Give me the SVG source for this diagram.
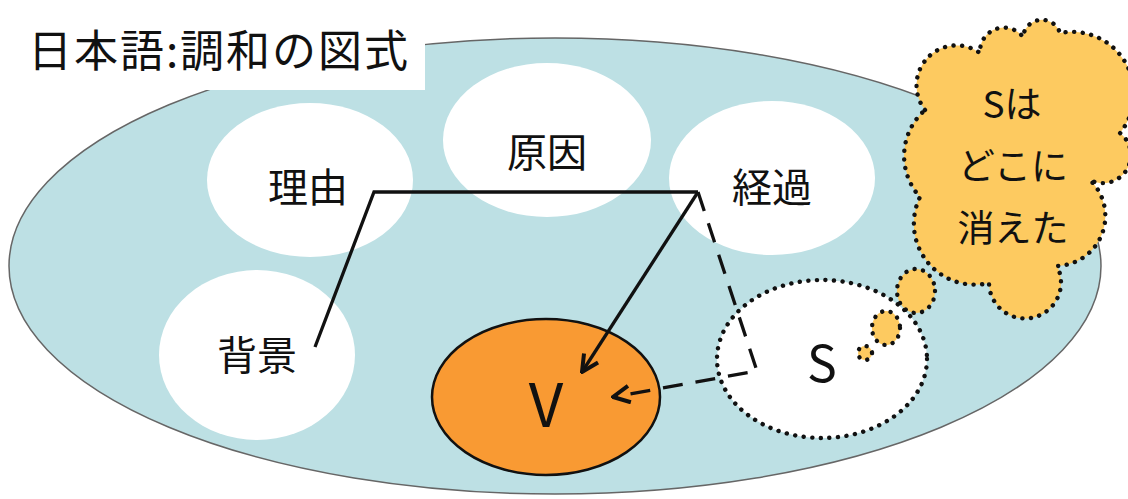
<svg xmlns="http://www.w3.org/2000/svg" width="1128" height="499" viewBox="0 0 1128 499">
<style>
text{font-family:"Noto Sans CJK JP","Noto Sans CJK SC",sans-serif;fill:#111;}
.lbl{font-size:40px;text-anchor:middle;}
.cl{font-size:37px;text-anchor:middle;}
.white{fill:#fff;stroke:none;}
.dot{stroke:#111;stroke-width:4.4;stroke-dasharray:0.1 8.5;stroke-linecap:round;}
.cloud{fill:#FDCA60;}
.ln{fill:none;stroke:#111;stroke-width:3.3;}
</style>
<defs>
<marker id="arr" viewBox="0 0 12 12" refX="11" refY="6" markerWidth="20" markerHeight="20" markerUnits="userSpaceOnUse" orient="auto">
<path d="M1,1 L11,6 L1,11" fill="none" stroke="#111" stroke-width="2.4"/>
</marker>
</defs>
<rect x="0" y="0" width="1128" height="499" fill="#fff"/>
<g id="field">
<ellipse cx="555" cy="266" rx="546" ry="228" fill="#BDE0E4" stroke="#666" stroke-width="1.5"/>
</g>
<g id="title">
<rect x="0" y="0" width="425" height="90" fill="#fff"/>
<text x="28" y="67" font-size="44" textLength="380" lengthAdjust="spacing">日本語:調和の図式</text>
</g>
<g id="riyu"><ellipse class="white" cx="310" cy="180" rx="103" ry="77"/><text class="lbl" x="308" y="202">理由</text></g>
<g id="genin"><ellipse class="white" cx="547" cy="140" rx="104" ry="77"/><text class="lbl" x="547" y="167">原因</text></g>
<g id="keika"><ellipse class="white" cx="772" cy="178" rx="103" ry="77"/><text class="lbl" x="772" y="202">経過</text></g>
<g id="haikei"><ellipse class="white" cx="257" cy="355" rx="98" ry="85"/><text class="lbl" x="257" y="370">背景</text></g>
<g id="v"><ellipse cx="546" cy="397" rx="114" ry="78" fill="#F99A33" stroke="#111" stroke-width="2.5"/><text x="546" y="427" font-size="60" text-anchor="middle">V</text></g>
<g id="s"><ellipse class="white dot" cx="822" cy="359" rx="105" ry="79"/><text x="822" y="382" font-size="50" text-anchor="middle">S</text></g>
<g id="connectors">
<polyline class="ln" points="315,347 374,192 698,192"/>
<line class="ln" x1="698" y1="192" x2="582" y2="372" stroke-width="2.8" marker-end="url(#arr)"/>
<polyline class="ln" points="698,192 757,371 613,397" stroke-dasharray="20 13" marker-end="url(#arr)"/>
</g>
<g id="thought">
<path class="cloud dot" d="M925,110 A40,40 0 0 1 980,53 A24,24 0 0 1 1023,37 A19,19 0 0 1 1060,33 A62,62 0 0 1 1120,133 A28,28 0 0 1 1090,180 A50,50 0 0 1 1057,266 A36,36 0 1 1 989,283 A61,61 0 0 1 920,197 A61,61 0 0 1 925,110 Z"/>
<ellipse class="cloud dot" cx="916" cy="291" rx="19" ry="22"/>
<ellipse class="cloud dot" cx="886" cy="328" rx="14" ry="17"/>
<circle class="cloud dot" cx="865" cy="353" r="7"/>
<text class="cl" x="1012" y="118">Sは</text>
<text class="cl" x="1013" y="180">どこに</text>
<text class="cl" x="1013" y="242">消えた</text>
</g>
</svg>
